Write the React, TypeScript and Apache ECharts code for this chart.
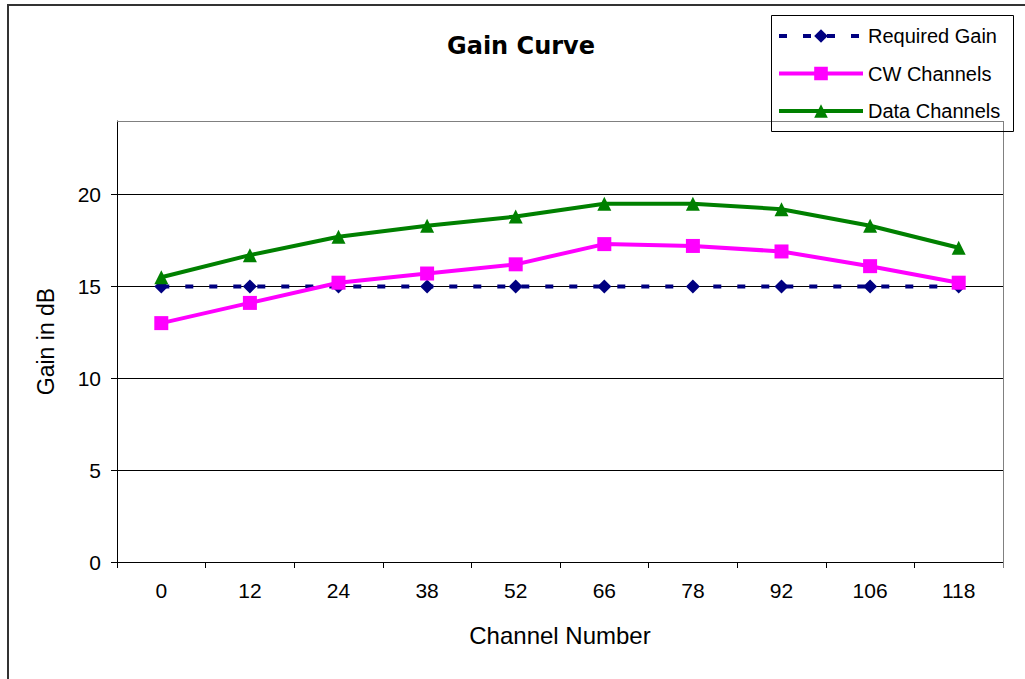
import React, { useEffect, useRef } from "react";
import * as echarts from "echarts";

const categories = ["0", "12", "24", "38", "52", "66", "78", "92", "106", "118"];
const requiredGain = [15, 15, 15, 15, 15, 15, 15, 15, 15, 15];
const cwChannels = [13.0, 14.1, 15.2, 15.7, 16.2, 17.3, 17.2, 16.9, 16.1, 15.2];
const dataChannels = [15.5, 16.7, 17.7, 18.3, 18.8, 19.5, 19.5, 19.2, 18.3, 17.1];
const yTicks = [0, 5, 10, 15, 20];

const FONT = "'Liberation Sans', Arial, sans-serif";

export default function App() {
  const ref = useRef<HTMLDivElement>(null);
  useEffect(() => {
    if (!ref.current) return;
    const chart = echarts.init(ref.current, null, { renderer: "svg" });
    const gl = 117, gt = 121, gr = 1003, gb = 562;
    chart.setOption({
      animation: false,
      backgroundColor: "#ffffff",
      textStyle: { fontFamily: FONT },
      grid: { left: gl, top: gt, right: 1025 - gr, bottom: 679 - gb, show: false },
      legend: {
        orient: "vertical",
        left: 772,
        top: 21,
        itemWidth: 84,
        itemHeight: 17,
        itemGap: 17.5,
        lineStyle: { width: 4 },
        textStyle: { fontSize: 20, color: "#000", fontFamily: FONT },
        data: ["Required Gain", "CW Channels", "Data Channels"],
      },
      xAxis: {
        type: "category",
        data: categories,
        boundaryGap: true,
        name: "Channel Number",
        nameLocation: "middle",
        nameGap: 61,
        nameTextStyle: { fontSize: 24, color: "#000", fontFamily: FONT },
        axisLine: { lineStyle: { color: "#000", width: 1 } },
        axisTick: { show: true, inside: false, length: 6, alignWithLabel: false, lineStyle: { color: "#000" } },
        axisLabel: { fontSize: 21, color: "#000", margin: 18, fontFamily: FONT },
        splitLine: { show: false },
      },
      yAxis: {
        type: "value",
        min: 0,
        max: 24,
        interval: 5,
        name: "Gain in dB",
        nameLocation: "middle",
        nameGap: 60,
        nameRotate: 90,
        nameTextStyle: { fontSize: 23, color: "#000", fontFamily: FONT },
        axisLine: { show: true, lineStyle: { color: "#000", width: 1 } },
        axisTick: { show: true, length: 6, lineStyle: { color: "#000" } },
        axisLabel: {
          fontSize: 21,
          color: "#000",
          margin: 16,
          fontFamily: FONT,
          showMaxLabel: false,
          formatter: (v: number) => (yTicks.indexOf(v) >= 0 ? String(v) : ""),
        },
        splitLine: { show: true, lineStyle: { color: "#000", width: 1 } },
      },
      graphic: [
        {
          type: "rect",
          z: 100,
          shape: { x: 8, y: 5, width: 1040, height: 720 },
          style: { fill: "none", stroke: "#333", lineWidth: 2 },
          silent: true,
        },
        {
          type: "line",
          z: 100,
          shape: { x1: gl, y1: gt + 0.5, x2: gr, y2: gt + 0.5 },
          style: { stroke: "#808080", lineWidth: 1 },
        },
        {
          type: "line",
          z: 100,
          shape: { x1: gr + 0.5, y1: gt, x2: gr + 0.5, y2: gb + 6 },
          style: { stroke: "#808080", lineWidth: 1 },
        },
        {
          type: "rect",
          z: 100,
          shape: { x: 771.5, y: 15.5, width: 242, height: 116 },
          style: { fill: "none", stroke: "#000", lineWidth: 1 },
        },
        {
          type: "text",
          z: 100,
          x: 521,
          y: 46,
          style: {
            text: "Gain Curve",
            fontSize: 24,
            fontWeight: "bold",
            fontFamily: "'DejaVu Sans', sans-serif",
            fill: "#000",
            align: "center",
            verticalAlign: "middle",
          },
        },
      ],
      series: [
        {
          name: "Required Gain",
          type: "line",
          data: requiredGain,
          symbol: "diamond",
          symbolSize: 14,
          z: 2,
          itemStyle: { color: "#000080" },
          lineStyle: { color: "#000080", width: 4, type: [8, 16] },
        },
        {
          name: "CW Channels",
          type: "line",
          data: cwChannels,
          symbol: "rect",
          symbolSize: 14,
          z: 3,
          itemStyle: { color: "#FF00FF" },
          lineStyle: { color: "#FF00FF", width: 4 },
        },
        {
          name: "Data Channels",
          type: "line",
          data: dataChannels,
          symbol: "triangle",
          symbolSize: 14,
          z: 4,
          itemStyle: { color: "#008000" },
          lineStyle: { color: "#008000", width: 4 },
        },
      ],
    });
    return () => chart.dispose();
  }, []);
  return (
    <div
      ref={ref}
      style={{ position: "absolute", left: 0, top: 0, width: 1025, height: 679 }}
    />
  );
}
